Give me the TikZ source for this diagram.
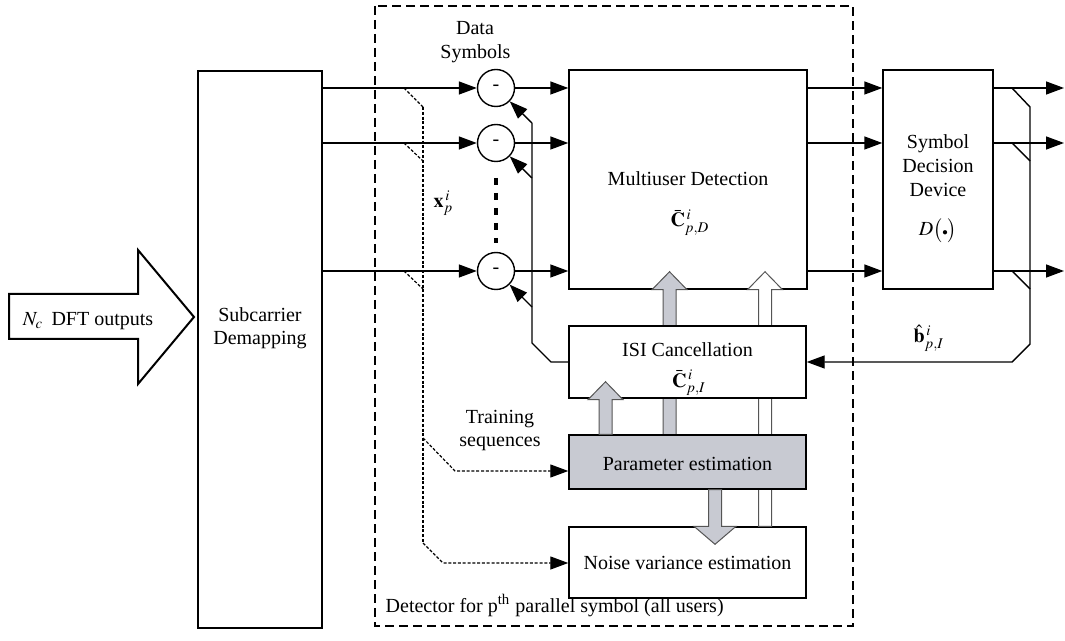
\documentclass[tikz,border=0pt]{standalone}
\usepackage{mathptmx}
\usepackage{graphicx}
\usepackage{fontspec}
\setmainfont{Liberation Serif}
\usetikzlibrary{arrows.meta,calc}
\definecolor{panelgray}{RGB}{200,202,210}
\definecolor{edgegray}{RGB}{85,85,85}

% vertical block arrow: style, start, tip, half width of the head
\newcommand\fatarrow[4]{%
  \path[#1] let \p1=(#2), \p2=(#3), \n1={sign(\y2-\y1)} in
    ({\x1-3.25pt},\y1) -- ({\x1-3.25pt},{\y2-(\n1)*9pt}) -- ({\x1-#4},{\y2-(\n1)*9pt})
    -- (\x1,\y2) -- ({\x1+#4},{\y2-(\n1)*9pt}) -- ({\x1+3.25pt},{\y2-(\n1)*9pt})
    -- ({\x1+3.25pt},\y1) -- cycle;}

\begin{document}
\begin{tikzpicture}[x=0.5pt,y=-0.5pt,line width=0.7pt,
  every node/.style={font=\fontsize{10}{12}\selectfont},
  block/.style={draw,fill=white,inner sep=0pt},
  sumnode/.style={draw,circle,fill=white,inner sep=0pt,minimum size=18.5pt},
  txt/.style={inner sep=0pt,anchor=base},
  arr/.style={-{Triangle[length=9pt,width=6.5pt]}},
  tapline/.style={line width=0.6pt,dash pattern=on 1.5pt off 0.9pt},
  framedash/.style={dash pattern=on 4.5pt off 2.5pt},
  vdots/.style={line width=1.6pt,dash pattern=on 3.5pt off 4pt},
  gfat/.style={fill=panelgray,draw=edgegray,line width=0.5pt},
  wfat/.style={fill=white,draw=edgegray,line width=0.5pt}]

\useasboundingbox (0,0) rectangle (1065,641);

% detector frame
\draw[framedash] (375,6) rectangle (853,626);

% input block arrow and demapper
\draw[line width=1pt] (9,294) -- (138,294) -- (138,250) -- (194,317) -- (138,384)
  -- (138,339) -- (9,339) -- cycle;
\node[block,minimum width=62pt,minimum height=278.5pt] (sub) at (260,349.5) {};

% main blocks
\node[block,minimum width=119pt,minimum height=109.5pt] (mud) at (688,179.5) {};
\node[block,minimum width=55pt,minimum height=109.5pt] (sdd) at (938,179.5) {};
\node[block,minimum width=118.5pt,minimum height=35.5pt] (noise) at (687.5,562.5) {};

% block arrows passing behind the ISI and parameter blocks
\coordinate (gx1) at (669.5,0);
\coordinate (gx2) at (765,0);
\coordinate (gx3) at (605.5,0);
\coordinate (gx4) at (715,0);
\coordinate (g1s) at (669.5,435);
\coordinate (g1t) at ($(mud.south -| gx1)+(0,-18)$);
\coordinate (g2s) at (noise.north -| gx2);
\coordinate (g2t) at ($(mud.south -| gx2)+(0,-18)$);
\fatarrow{gfat}{g1s}{g1t}{8.75pt}
\fatarrow{wfat}{g2s}{g2t}{8.75pt}

\node[block,minimum width=118.5pt,minimum height=36pt] (isi) at (687.5,362) {};
\node[block,fill=panelgray,minimum width=118.5pt,minimum height=27pt] (param) at (687.5,462) {};

\coordinate (g3s) at (param.north -| gx3);
\coordinate (g3t) at ($(isi.south -| gx3)+(0,-17)$);
\coordinate (g4s) at (param.south -| gx4);
\coordinate (g4t) at ($(noise.north -| gx4)+(0,18)$);
\fatarrow{gfat}{g3s}{g3t}{8.75pt}
\fatarrow{gfat}{g4s}{g4t}{10.5pt}

% subtractors
\node[sumnode] (s1) at (496,88) {-};
\node[sumnode] (s2) at (496,143) {-};
\node[sumnode] (s3) at (496,271) {-};
\draw[vdots] (496,178) -- (496,243);

% data paths
\foreach \s in {s1,s2,s3}{
  \draw[arr] (sub.east |- \s) -- (\s);
  \draw[arr] (\s) -- (mud.west |- \s);
  \draw[arr] (mud.east |- \s) -- (sdd.west |- \s);
}
\coordinate (o1) at (1064,88);
\coordinate (o2) at (1064,143);
\coordinate (o3) at (1064,271);
\draw[arr] (sdd.east |- o1) -- (o1);
\draw[arr] (sdd.east |- o2) -- (o2);
\draw[arr] (sdd.east |- o3) -- (o3);

% decision feedback to ISI cancellation
\coordinate (ra1) at (1012,88);  \coordinate (rb1) at (1030,107);
\coordinate (ra2) at (1012,143); \coordinate (rb2) at (1030,161);
\coordinate (ra3) at (1012,271); \coordinate (rb3) at (1030,289);
\coordinate (rc) at (1030,344);  \coordinate (rd) at (1012,362);
\draw (ra1) -- (rb1);
\draw (ra2) -- (rb2);
\draw (ra3) -- (rb3);
\draw[arr] (rb1) -- (rc) -- (rd) -- (isi.east);

% ISI estimate back to the subtractors
\coordinate (fb1) at (551,362);
\coordinate (fb2) at (532,343);
\coordinate (fbA) at (532,123);
\coordinate (fbB) at (532,178);
\coordinate (fbC) at (532,307);
\draw (isi.west) -- (fb1) -- (fb2) -- (fbA);
\draw[arr] (fbA) -- (s1);
\draw[arr] (fbB) -- (s2);
\draw[arr] (fbC) -- (s3);

% training sequence taps
\coordinate (la1) at (404,88);  \coordinate (lb1) at (423,107);
\coordinate (la2) at (404,143); \coordinate (lb2) at (423,161);
\coordinate (la3) at (404,271); \coordinate (lb3) at (423,289);
\coordinate (lv1) at (423,438); \coordinate (lw1) at (455,471);
\coordinate (lv2) at (423,543); \coordinate (lw2) at (443,563);
\draw[tapline] (la1) -- (lb1);
\draw[tapline] (la2) -- (lb2);
\draw[tapline] (la3) -- (lb3);
\draw[tapline] (lb1) -- (lv2);
\draw[tapline,arr] (lv1) -- (lw1) -- (param.west |- lw1);
\draw[tapline,arr] (lv2) -- (lw2) -- (noise.west |- lw2);

% labels
\node[txt] (tN) at (88,326) {$N_c$\,\ DFT outputs};
\node[txt] (tSub1) at (260,322) {Subcarrier};
\node[txt] (tSub2) at (260,345) {Demapping};
\node[txt] (tD1) at (475,35) {Data};
\node[txt] (tD2) at (475.5,59) {Symbols};
\node[txt,anchor=base west] (tx) at (433,208) {$\mathbf{x}_p^{\,i}$};
\node[txt] (tMud) at (688,186) {Multiuser Detection};
\node[txt] (tCd) at (690,227) {$\bar{\mathbf{C}}_{p,D}^{\,i}$};
\node[txt] (tIsi) at (687.5,357) {ISI Cancellation};
\node[txt] (tCi) at (689,387) {$\bar{\mathbf{C}}_{p,I}^{\,i}$};
\node[txt] (tPar) at (687.5,470) {Parameter estimation};
\node[txt] (tNoi) at (687.5,569) {Noise variance estimation};
\node[txt] (tTr1) at (500,423) {Training};
\node[txt] (tTr2) at (500,446) {sequences};
\node[txt] (tS1) at (938,149) {Symbol};
\node[txt] (tS2) at (938,173) {Decision};
\node[txt] (tS3) at (938,197) {Device};
\node[txt] (tS4) at (938,236) {$D\bigl(\raisebox{0.1ex}{\scalebox{0.55}{$\bullet$}}\bigr)$};
\node[txt,anchor=base west] (tb) at (913,343) {$\hat{\mathbf{b}}_{p,I}^{\,i}$};
\node[txt,anchor=base west] (tDet) at (385,612) {Detector for p\textsuperscript{th} parallel symbol (all users)};
\end{tikzpicture}
\end{document}
